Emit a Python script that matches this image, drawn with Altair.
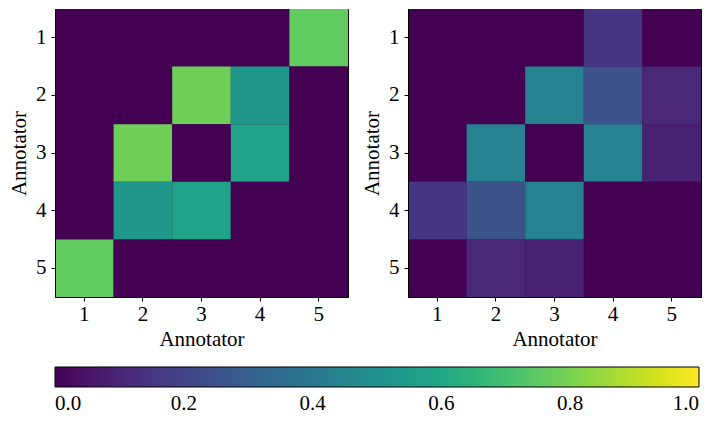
import altair as alt
import pandas as pd

annotators = ["1", "2", "3", "4", "5"]

left_values = [
    [0.00, 0.00, 0.00, 0.00, 0.76],
    [0.00, 0.00, 0.78, 0.53, 0.00],
    [0.00, 0.78, 0.00, 0.58, 0.00],
    [0.00, 0.53, 0.58, 0.00, 0.00],
    [0.76, 0.00, 0.00, 0.00, 0.00],
]

right_values = [
    [0.00, 0.00, 0.00, 0.15, 0.00],
    [0.00, 0.00, 0.44, 0.25, 0.11],
    [0.00, 0.44, 0.00, 0.44, 0.09],
    [0.15, 0.25, 0.44, 0.00, 0.00],
    [0.00, 0.11, 0.09, 0.00, 0.00],
]

colorbar_ticks = [0.0, 0.2, 0.4, 0.6, 0.8, 1.0]

FONT = "Liberation Serif"


def to_df(mat):
    rows = []
    for i, r in enumerate(annotators):
        for j, c in enumerate(annotators):
            rows.append({"row": r, "col": c, "v": mat[i][j]})
    return pd.DataFrame(rows)


color = alt.Color(
    "v:Q",
    scale=alt.Scale(scheme="viridis", domain=[0, 1]),
    legend=alt.Legend(
        type="gradient",
        orient="none",
        legendX=0,
        legendY=358,
        direction="horizontal",
        gradientLength=644,
        gradientThickness=20,
        values=colorbar_ticks,
        format=".1f",
        labelFontSize=21,
        labelFont=FONT,
        labelColor="black",
        labelAlign="center",
        labelOffset=6,
        gradientStrokeColor="black",
        gradientStrokeWidth=1,
        title=None,
    ),
)


def panel(mat):
    return (
        alt.Chart(to_df(mat))
        .mark_rect(strokeWidth=0)
        .encode(
            x=alt.X("col:O", title="Annotator", sort=annotators,
                    axis=alt.Axis(labelAngle=0, labelPadding=2, titlePadding=4)),
            y=alt.Y("row:O", title="Annotator", sort=annotators),
            color=color,
        )
        .properties(width=293, height=288)
    )


chart = (
    alt.hconcat(panel(left_values), panel(right_values), spacing=12)
    .properties(padding=0)
    .configure(font=FONT)
    .configure_view(stroke="black", strokeWidth=1, fill="#440154")
    .configure_axis(
        labelFont=FONT,
        titleFont=FONT,
        labelFontSize=21,
        titleFontSize=21,
        titleFontWeight="normal",
        labelColor="black",
        titleColor="black",
        domainColor="black",
        tickColor="black",
        tickSize=4,
        labelPadding=5,
        titlePadding=6,
        grid=False,
    )
)

chart.save("out.html", embed_options={"renderer": "svg", "actions": False})
